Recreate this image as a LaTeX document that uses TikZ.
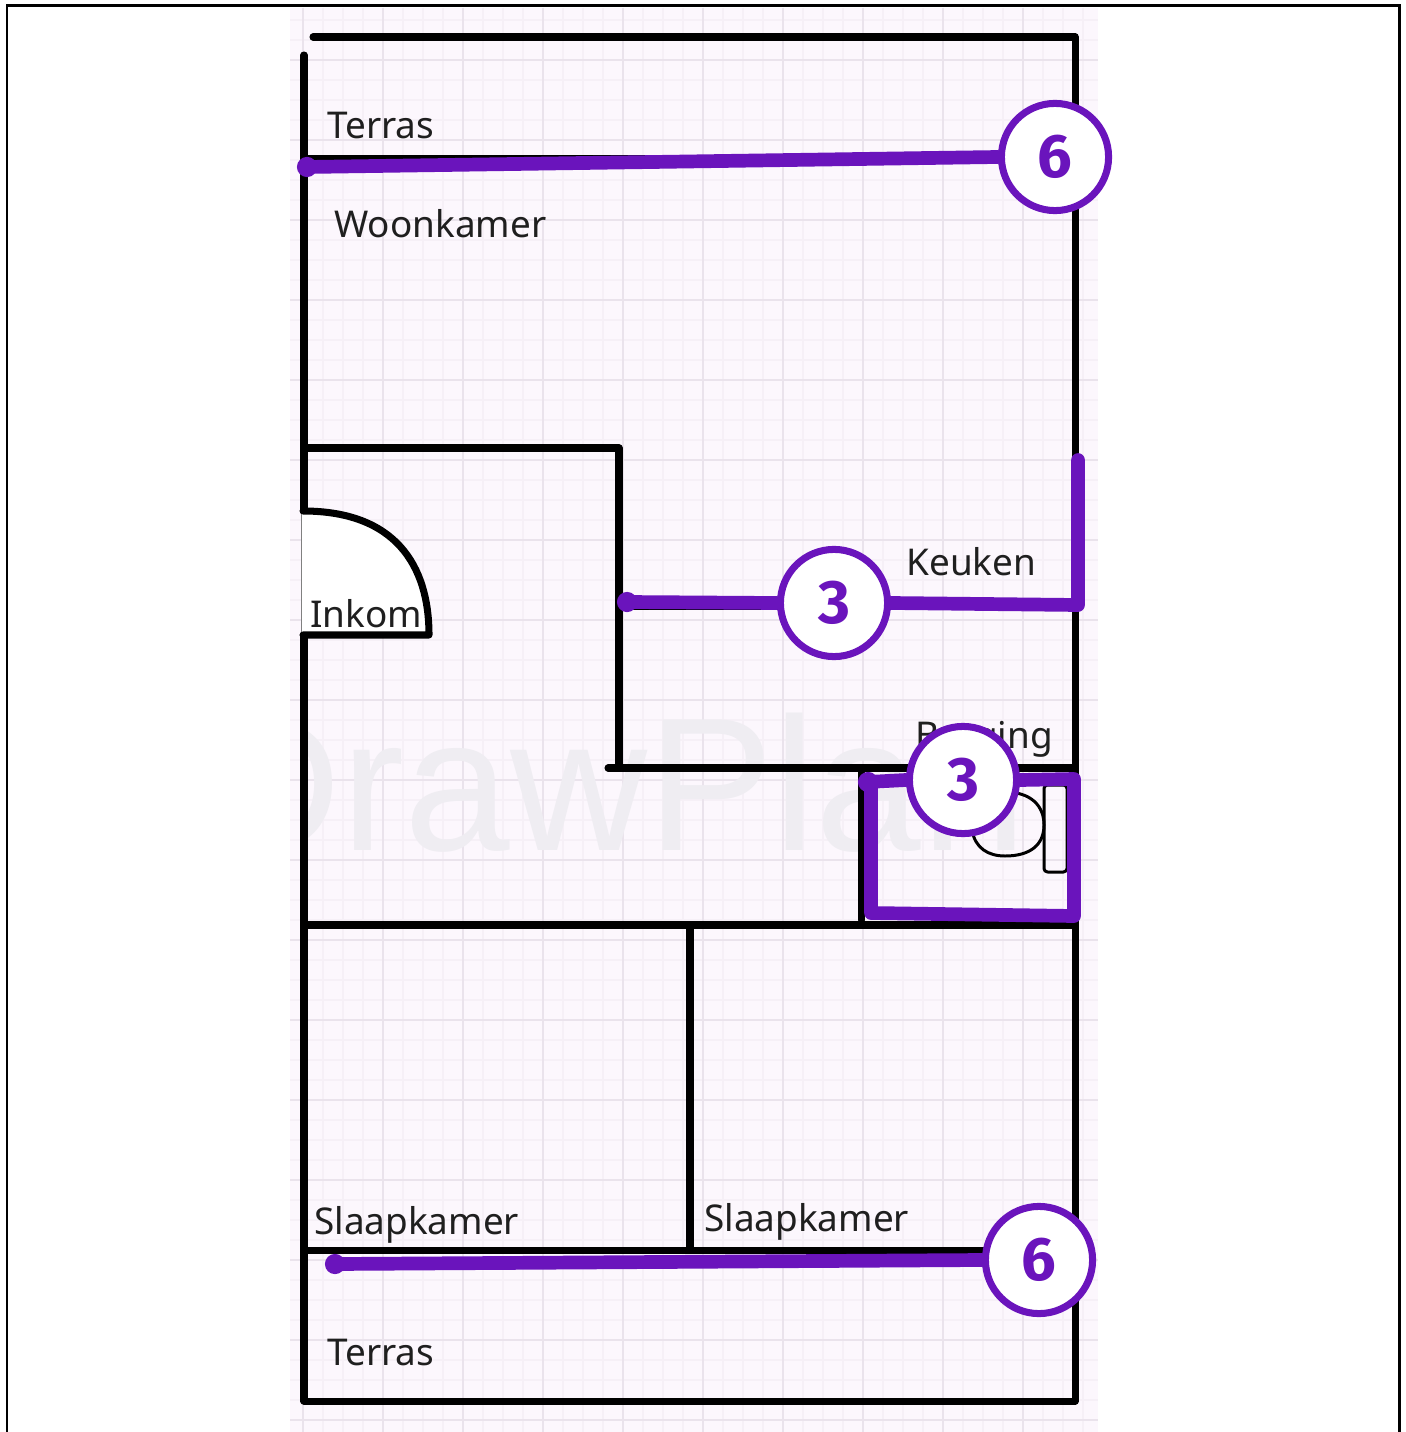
\documentclass[tikz,border=0pt]{standalone}
\usepackage{fontspec}
\setmainfont{Noto Sans}
\newfontfamily\markfont{Liberation Sans}
\newfontfamily\badgefont{Fira Sans}
\definecolor{sheet}{HTML}{FCF7FD}
\definecolor{gridminor}{HTML}{F6F0F7}
\definecolor{gridmajor}{HTML}{EAE3EC}
\definecolor{routepurple}{HTML}{6A14BC}
\definecolor{markgray}{HTML}{EFEDF2}

\begin{document}
\begin{tikzpicture}[x=0.02cm,y=0.02cm]
\tikzstyle{every node}+=[inner sep=0pt]
\tikzstyle{wall}=[black,line width=4pt,line cap=round,line join=round]
\tikzstyle{thin wall}=[black,line width=1.7pt,line cap=round,line join=round]
\tikzstyle{route}=[routepurple,line width=7.8pt,line cap=round,line join=round]
\tikzstyle{route dot}=[circle,fill=routepurple,minimum size=11.5pt]
\tikzstyle{badge}=[circle,draw=routepurple,line width=4pt,fill=white,minimum size=61pt,text=routepurple,font=\badgefont\fontsize{35}{35}\selectfont\bfseries]
\tikzstyle{room}=[anchor=base west,text=black!88,font=\fontsize{21}{25}\selectfont]
\useasboundingbox (0,0) rectangle (1405,-1432);
\fill [white] (0,0) rectangle (1405,-1432);
\draw [black,line width=1.7pt] (7,-1432) -- (7,-6) -- (1399,-6) -- (1399,-1432);
\fill [sheet] (290,-8) rectangle (1098,-1432);
\foreach \y in {20,40,...,1420}
  \draw [gridminor,line width=0.6pt] (290,-\y) -- (1098,-\y);
\foreach \x in {303,323,...,1098}
  \draw [gridminor,line width=0.6pt] (\x,-8) -- (\x,-1432);
\foreach \y in {60,140,...,1420}
  \draw [gridmajor,line width=0.6pt] (290,-\y) -- (1098,-\y);
\foreach \x in {303,383,...,1098}
  \draw [gridmajor,line width=0.6pt] (\x,-8) -- (\x,-1432);
\begin{scope}
\clip (304,-8) rectangle (1098,-1432);
\node (watermark) [anchor=base west,text=markgray,font=\markfont\fontsize{108}{108}\selectfont] at (204,-850) {DrawPlan};
\end{scope}
\draw [wall] (313,-37) -- (1075,-37) -- (1075,-1401) -- (304,-1401) -- (304,-635);
\draw [wall] (304,-55) -- (304,-510);
\draw [wall] (304,-159) -- (1075,-159);
\draw [wall] (304,-448) -- (619,-448) -- (619,-768);
\draw [wall] (608,-768) -- (1075,-768);
\draw [wall] (619,-606) -- (1075,-606);
\draw [wall] (861,-768) -- (861,-920);
\draw [wall] (304,-925) -- (1075,-925);
\draw [wall] (690,-925) -- (690,-1250);
\draw [wall] (304,-1250) -- (1000,-1250);
\draw [thin wall] (972,-830) .. controls (975,-848) and (988,-856) .. (1005,-856) .. controls (1030,-856) and (1044,-845) .. (1044,-825) .. controls (1044,-805) and (1030,-792) .. (1005,-792);
\draw [thin wall,rounded corners=2pt] (1044,-785) rectangle (1067,-872);
\fill [white] (302,-510) .. controls (395,-510) and (429,-565) .. (429,-635) -- (302,-635) -- cycle;
\draw [gray,line width=0.7pt] (301.5,-510) -- (301.5,-635);
\draw [wall] (303,-511) .. controls (395,-511) and (429,-565) .. (429,-635) -- (303,-635);
\node (terrastop) [room] at (327,-139) {Terras};
\node (woonkamer) [room] at (334,-238) {Woonkamer};
\node (inkom) [room] at (310,-627) {Inkom};
\node (keuken) [room] at (906,-575) {Keuken};
\node (berging) [room] at (915,-748) {Berging};
\node (slaapleft) [room] at (314,-1234) {Slaapkamer};
\node (slaapright) [room] at (704,-1231) {Slaapkamer};
\node (terrasbottom) [room] at (327,-1365) {Terras};
\node (dottop) [route dot] at (307,-167) {};
\node (dotkeuken) [route dot] at (627,-602) {};
\node (dotberging) [route dot] at (868,-782) {};
\node (dotbottom) [route dot] at (335,-1264) {};
\coordinate (keukencorner) at (1078,-605);
\coordinate (keukenend) at (1078,-460);
\coordinate (bergingne) at (1074,-779);
\coordinate (bergingse) at (1074,-916);
\coordinate (bergingsw) at (871,-913);
\coordinate (bergingnw) at (871,-782);
\node (badgetop) [badge] at (1055,-157) {6};
\node (badgekeuken) [badge] at (834,-603) {3};
\node (badgeberging) [badge] at (963,-780) {3};
\node (badgebottom) [badge] at (1039,-1260) {6};
\draw [route] (dottop.center) -- (badgetop.west);
\draw [route] (dotkeuken.center) -- (badgekeuken.west);
\draw [route] (badgekeuken.east) -- (keukencorner) -- (keukenend);
\draw [route] (dotberging.center) -- (badgeberging.west);
\draw [route] (badgeberging.east) -- (bergingne) -- (bergingse) -- (bergingsw) -- (bergingnw);
\draw [route] (dotbottom.center) -- (badgebottom.west);
\end{tikzpicture}
\end{document}
